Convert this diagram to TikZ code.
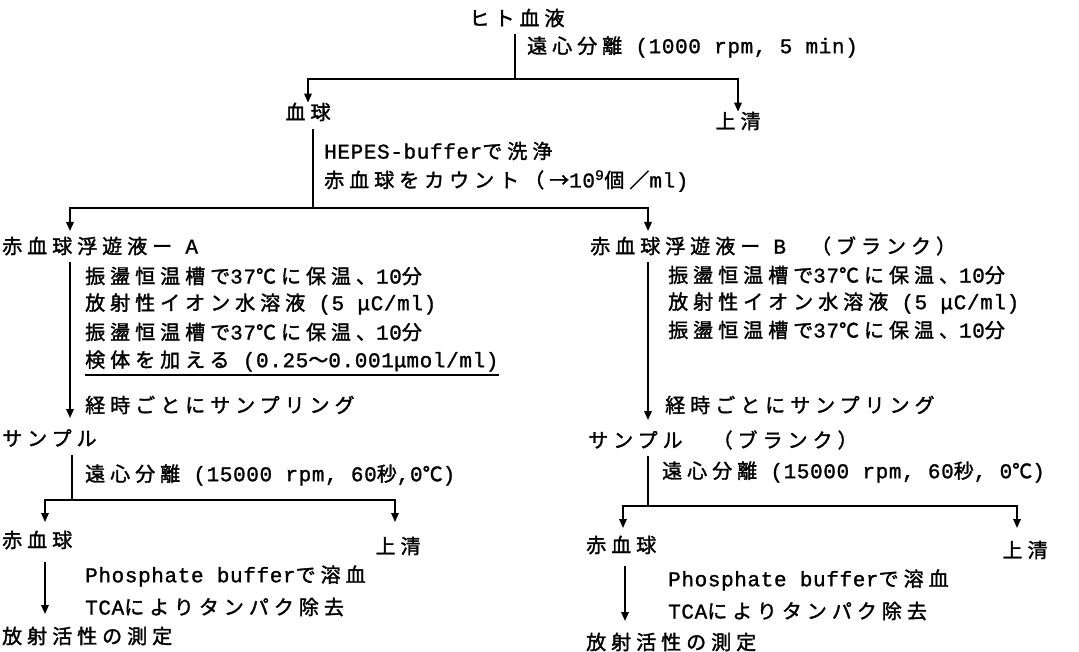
\documentclass[tikz,border=0pt]{standalone}
\usepackage{fontspec}
\setmainfont{Noto Sans CJK JP}[LetterSpace=25, FakeBold=1.6, Ligatures=NoCommon]
\newfontfamily\latf{Liberation Mono}[LetterSpace=3, FakeBold=1.2]
\newcommand\lt[1]{{\latf\fontsize{21}{22}\selectfont #1}}
\usetikzlibrary{arrows.meta}
\begin{document}
\begin{tikzpicture}[x=1pt,y=-1pt,
  every node/.style={inner sep=0pt, font=\fontsize{20}{22}\selectfont},
  txt/.style={anchor=west},
  ctr/.style={anchor=center},
  ln/.style={line width=1.6pt},
  hl/.style={line width=2.2pt},
  arr/.style={line width=1.6pt,-{Triangle[length=9pt,width=7.5pt]}}]
\useasboundingbox (0,0) rectangle (1079,652);
% ---- top
\node[ctr] (blood) at (517,18) {ヒト血液};
\node[txt] (cent1) at (527,47) {遠心分離\lt{ (1000 rpm, 5 min)}};
\node[ctr] (cells) at (308,112) {血球};
\node[ctr] (sup1) at (738,121) {上清};
\coordinate (j1) at (515,79);
\draw[ln] (j1 |- 0,34) -- (j1);
\draw[hl] (309,79) -- (737,79);
\draw[arr] (j1) -| (cells.north);
\draw[arr] (j1) -| (sup1.north);
% ---- wash
\node[txt] (wash) at (324,151) {\lt{HEPES-buffer}で洗浄};
\node[txt] (count) at (324,181) {赤血球をカウント（→\lt{10\textsuperscript{9}}個／\lt{ml)}};
\coordinate (j2) at (313,208);
\draw[ln] (j2 |- 0,129) -- (j2);
\draw[hl] (70,208) -- (648,208);
\coordinate (aTop) at (70,231);
\coordinate (bTop) at (648,231);
\draw[arr] (j2) -| (aTop);
\draw[arr] (j2) -| (bTop);
\node[txt] (susA) at (2,246) {赤血球浮遊液ー\lt{ A}};
\node[txt] (susB) at (590,246) {赤血球浮遊液ー\lt{ B}　（ブランク）};
% ---- A branch
\node[txt] (a1) at (85,276) {振盪恒温槽で\lt{37}℃に保温、\lt{10}分};
\node[txt] (a2) at (85,304) {放射性イオン水溶液\lt{ (5 μC/ml)}};
\node[txt] (a3) at (85,332) {振盪恒温槽で\lt{37}℃に保温、\lt{10}分};
\node[txt] (a4) at (85,361) {検体を加える\lt{ (0.25}〜\lt{0.001}μ\lt{mol/ml)}};
\node[txt] (a5) at (85,405) {経時ごとにサンプリング};
\draw[hl] ([yshift=-3pt]a4.south west) -- ([yshift=-3pt]a4.south east);
\coordinate (aS) at (70,262);
\coordinate (aE) at (70,418);
\draw[arr] (aS) -- (aE);
\node[txt] (sampA) at (2,438) {サンプル};
\node[txt] (centA) at (85,475) {遠心分離\lt{ (15000 rpm, 60}秒\lt{,0}℃\lt{)}};
\coordinate (j3) at (72,500);
\draw[ln] (j3 |- 0,455) -- (j3);
\draw[hl] (45,500) -- (395,500);
\coordinate (aR) at (45,522);
\coordinate (aU) at (395,522);
\draw[arr] (j3) -| (aR);
\draw[arr] (j3) -| (aU);
\node[txt] (rbcA) at (2,540) {赤血球};
\node[ctr] (supA) at (398,546) {上清};
\node[txt] (phA) at (85,576) {\lt{Phosphate buffer}で溶血};
\node[txt] (tcaA) at (85,607) {\lt{TCA}によりタンパク除去};
\node[txt] (radA) at (2,636) {放射活性の測定};
\coordinate (aM1) at (45,562);
\coordinate (aM2) at (45,614);
\draw[arr] (aM1) -- (aM2);
% ---- B branch
\node[txt] (b1) at (668,275) {振盪恒温槽で\lt{37}℃に保温、\lt{10}分};
\node[txt] (b2) at (668,303) {放射性イオン水溶液\lt{ (5 μC/ml)}};
\node[txt] (b3) at (668,330) {振盪恒温槽で\lt{37}℃に保温、\lt{10}分};
\node[txt] (b5) at (665,405) {経時ごとにサンプリング};
\coordinate (bS) at (648,262);
\coordinate (bE) at (648,420);
\draw[arr] (bS) -- (bE);
\node[txt] (sampB) at (588,440) {サンプル　（ブランク）};
\node[txt] (centB) at (662,472) {遠心分離\lt{ (15000 rpm, 60}秒\lt{, 0}℃\lt{)}};
\coordinate (j4) at (648,506);
\draw[ln] (j4 |- 0,456) -- (j4);
\draw[hl] (623,506) -- (1017,506);
\coordinate (bR) at (623,528);
\coordinate (bU) at (1017,528);
\draw[arr] (j4) -| (bR);
\draw[arr] (j4) -| (bU);
\node[txt] (rbcB) at (586,545) {赤血球};
\node[ctr] (supB) at (1025,550) {上清};
\node[txt] (phB) at (668,580) {\lt{Phosphate buffer}で溶血};
\node[txt] (tcaB) at (668,611) {\lt{TCA}によりタンパク除去};
\node[txt] (radB) at (586,642) {放射活性の測定};
\coordinate (bM1) at (625,566);
\coordinate (bM2) at (625,621);
\draw[arr] (bM1) -- (bM2);
\end{tikzpicture}
\end{document}
